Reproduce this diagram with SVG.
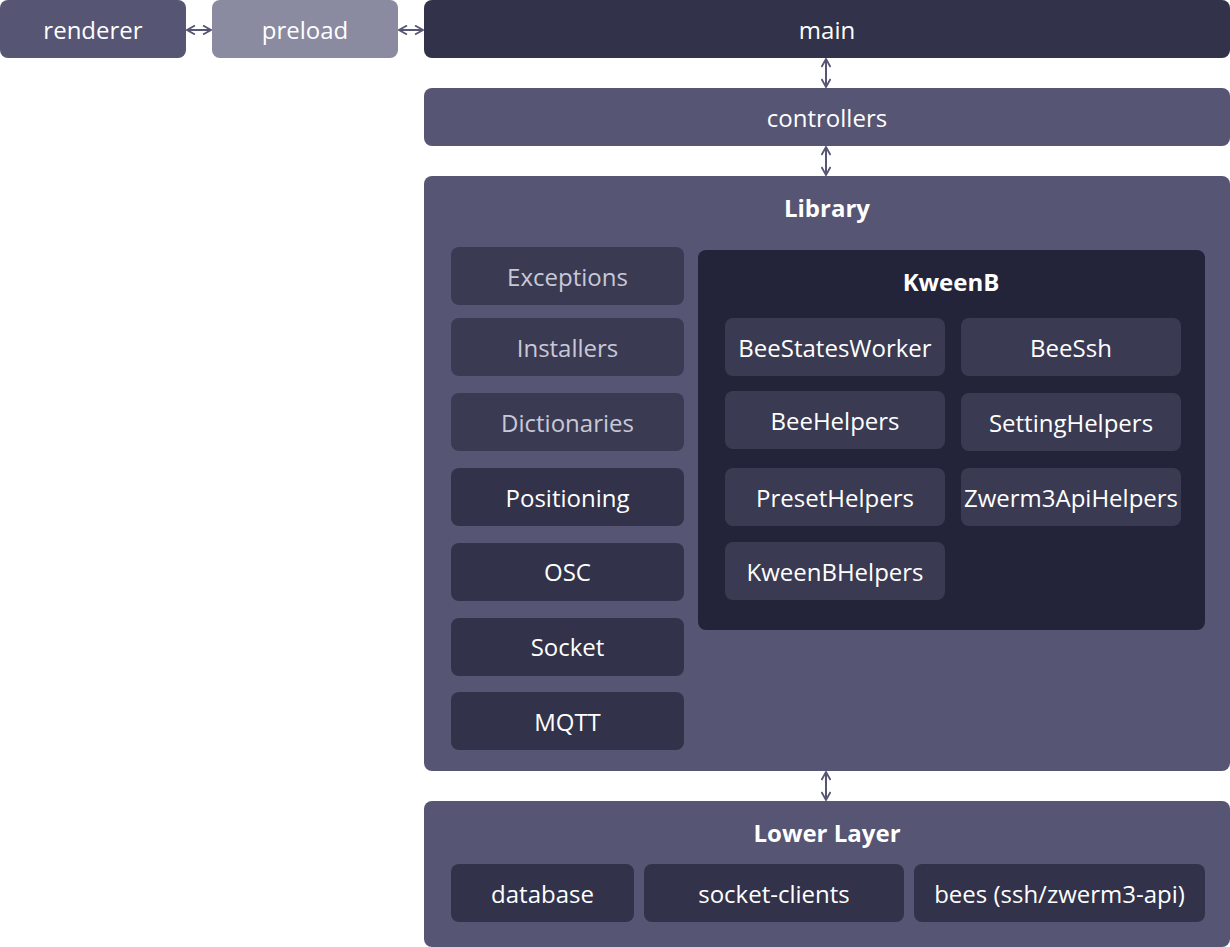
<svg xmlns="http://www.w3.org/2000/svg" width="1230" height="947" viewBox="0 0 1230 947">
<defs>
<marker id="ah" viewBox="0 0 10 10" refX="9" refY="5" markerWidth="10" markerHeight="10" markerUnits="userSpaceOnUse" orient="auto-start-reverse">
<path d="M1,0.5 L9,5 L1,9.5" fill="none" stroke="#565573" stroke-width="1.8"/>
</marker>
<style>
text{font-family:"Open Sans","Noto Sans",sans-serif;font-size:24px;fill:#ffffff;text-anchor:middle;dominant-baseline:central}
.b{font-weight:bold}
.g{fill:#c9c8d6}
.outer{fill:#565573}
.dark{fill:#32324a}
.mid{fill:#3b3a53}
.kb{fill:#232339}
.kin{fill:#3a3a52}
.conn{stroke:#565573;stroke-width:2;fill:none;marker-start:url(#ah);marker-end:url(#ah)}
</style>
</defs>
<g id="connectors">
<line class="conn" x1="187" y1="30" x2="211" y2="30"/>
<line class="conn" x1="399" y1="30" x2="423" y2="30"/>
<line class="conn" x1="826" y1="59" x2="826" y2="87"/>
<line class="conn" x1="826" y1="147" x2="826" y2="175"/>
<line class="conn" x1="826" y1="772" x2="826" y2="800"/>
</g>
<g id="renderer"><rect class="outer" x="0" y="0" width="186" height="58" rx="8"/><text x="93" y="29">renderer</text></g>
<g id="preload"><rect x="212" y="0" width="186" height="58" rx="8" fill="#8a8aa0"/><text x="305" y="29">preload</text></g>
<g id="main"><rect class="dark" x="424" y="0" width="806" height="58" rx="8"/><text x="827" y="29">main</text></g>
<g id="controllers"><rect class="outer" x="424" y="88" width="806" height="58" rx="8"/><text x="827" y="117">controllers</text></g>
<g id="library">
<rect class="outer" x="424" y="176" width="806" height="595" rx="8"/>
<text class="b" x="827" y="207">Library</text>
</g>
<g id="exceptions"><rect class="mid" x="451" y="247" width="233" height="58" rx="8"/><text class="g" x="567.5" y="276">Exceptions</text></g>
<g id="installers"><rect class="mid" x="451" y="318" width="233" height="58" rx="8"/><text class="g" x="567.5" y="347">Installers</text></g>
<g id="dictionaries"><rect class="mid" x="451" y="393" width="233" height="58" rx="8"/><text class="g" x="567.5" y="422">Dictionaries</text></g>
<g id="positioning"><rect class="dark" x="451" y="468" width="233" height="58" rx="8"/><text x="567.5" y="497">Positioning</text></g>
<g id="osc"><rect class="dark" x="451" y="543" width="233" height="58" rx="8"/><text x="567.5" y="571">OSC</text></g>
<g id="socket"><rect class="dark" x="451" y="618" width="233" height="58" rx="8"/><text x="567.5" y="646">Socket</text></g>
<g id="mqtt"><rect class="dark" x="451" y="692" width="233" height="58" rx="8"/><text x="567.5" y="721">MQTT</text></g>
<g id="kweenb">
<rect class="kb" x="698" y="250" width="507" height="380" rx="8"/>
<text class="b" x="951" y="281">KweenB</text>
</g>
<g id="beestatesworker"><rect class="kin" x="725" y="318" width="220" height="58" rx="8"/><text x="835" y="347">BeeStatesWorker</text></g>
<g id="beessh"><rect class="kin" x="961" y="318" width="220" height="58" rx="8"/><text x="1071" y="347">BeeSsh</text></g>
<g id="beehelpers"><rect class="kin" x="725" y="391" width="220" height="58" rx="8"/><text x="835" y="420">BeeHelpers</text></g>
<g id="settinghelpers"><rect class="kin" x="961" y="393" width="220" height="58" rx="8"/><text x="1071" y="422">SettingHelpers</text></g>
<g id="presethelpers"><rect class="kin" x="725" y="468" width="220" height="58" rx="8"/><text x="835" y="497">PresetHelpers</text></g>
<g id="zwerm3apihelpers"><rect class="kin" x="961" y="468" width="220" height="58" rx="8"/><text x="1071" y="497">Zwerm3ApiHelpers</text></g>
<g id="kweenbhelpers"><rect class="kin" x="725" y="542" width="220" height="58" rx="8"/><text x="835" y="571">KweenBHelpers</text></g>
<g id="lowerlayer">
<rect class="outer" x="424" y="801" width="806" height="146" rx="8"/>
<text class="b" x="827" y="832">Lower Layer</text>
</g>
<g id="database"><rect class="dark" x="451" y="864" width="183" height="58" rx="8"/><text x="542.5" y="893">database</text></g>
<g id="socket-clients"><rect class="dark" x="644" y="864" width="260" height="58" rx="8"/><text x="774" y="893">socket-clients</text></g>
<g id="bees"><rect class="dark" x="914" y="864" width="291" height="58" rx="8"/><text x="1059.5" y="893">bees (ssh/zwerm3-api)</text></g>
</svg>
